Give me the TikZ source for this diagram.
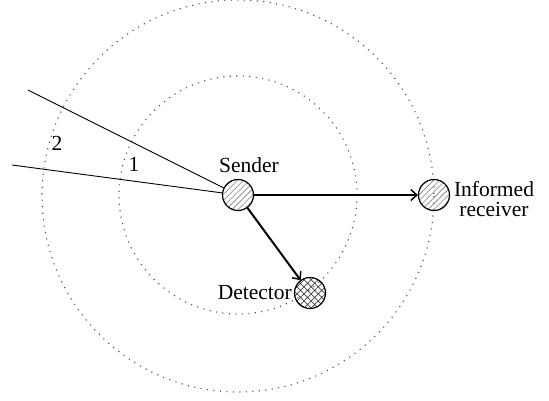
\documentclass[tikz,border=0pt]{standalone}
\usepackage{fontspec}
\setmainfont{Liberation Serif}
\usetikzlibrary{arrows.meta,patterns.meta}

\begin{document}
\begin{tikzpicture}[x=1pt,y=-1pt,
  agent/.style={circle,draw,line width=1.2pt,minimum size=31pt,inner sep=0pt},
  hatched/.style={agent,pattern={Lines[angle=45,distance=4.2pt,line width=0.6pt]},pattern color=black!50},
  crossed/.style={agent,pattern={Hatch[angle=45,distance=5pt,line width=0.7pt]},pattern color=black!75},
  reach/.style={draw=black!70,line width=1.1pt,dash pattern=on 1.1pt off 5.4pt},
  ray/.style={line width=0.9pt},
  link/.style={line width=2pt,-{Straight Barb[length=6pt,width=11pt,line width=1.5pt]}},
  lbl/.style={font=\fontsize{21.5}{24}\selectfont,inner sep=0pt}]
\useasboundingbox (0,0) rectangle (549,400);

% communication ranges around the sender
\draw[reach] (238,195) circle[radius=119];
\draw[reach] (238,196) circle[radius=196];

% agents
\node[hatched] (sender) at (238,195) {};
\node[hatched] (receiver) at (434,195) {};
\node[crossed] (detector) at (310,293) {};

% incoming rays
\coordinate (r2) at (28,90);
\coordinate (r1) at (12,165);
\draw[ray] (r2) -- (sender);
\draw[ray] (r1) -- (sender);

% signals
\draw[link] (sender) -- (receiver);
\draw[link] (sender) -- (detector);

% labels
\node[lbl,anchor=base] (lsender) at (249,172) {Sender};
\node[lbl,anchor=center,align=center] (lreceiver) at (494,199) {Informed\\[-4pt]receiver};
\node[lbl,anchor=base east] (ldetector) at (292,299) {Detector};
\node[lbl,anchor=base] (ltwo) at (57,150) {2};
\node[lbl,anchor=base] (lone) at (134,171) {1};
\end{tikzpicture}
\end{document}
